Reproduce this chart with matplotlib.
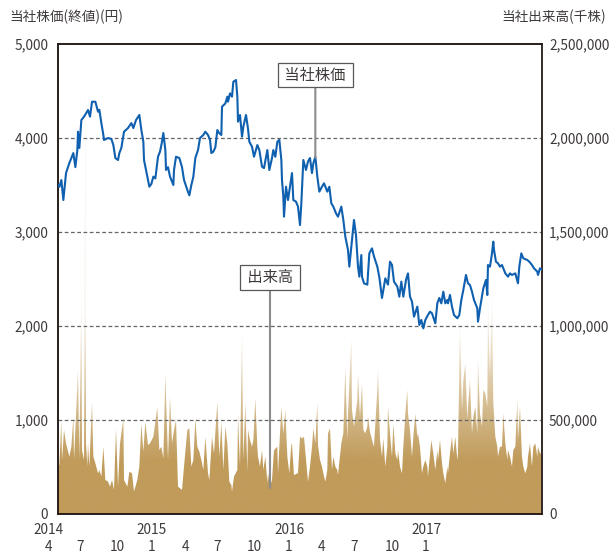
import numpy as np
import matplotlib
matplotlib.use("Agg")
import matplotlib.pyplot as plt
from matplotlib.colors import to_rgb
from matplotlib.path import Path

plt.rcParams['font.family'] = ['Noto Sans CJK JP', 'DejaVu Sans']

# trading-day index (0 = first day shown) and closing price (yen)
price_day = [0, 2, 5, 8, 12, 17, 23, 26, 29, 30, 32, 35, 39, 45, 48, 51, 56, 60, 62, 65,
             68, 69, 75, 80, 83, 86, 90, 92, 95, 99, 105, 110, 113, 117, 122, 125, 128, 129, 134, 137,
             140, 143, 146, 150, 153, 156, 158, 161, 162, 165, 168, 173, 174, 177, 182, 186, 189, 194, 197, 200,
             203, 206, 210, 213, 218, 221, 225, 228, 230, 233, 236, 239, 242, 245, 246, 251, 254, 255, 258, 261,
             263, 267, 269, 270, 273, 276, 278, 282, 285, 287, 291, 294, 299, 302, 306, 309, 314, 317, 321, 323,
             326, 329, 332, 335, 336, 338, 339, 342, 345, 348, 351, 353, 357, 360, 363, 365, 368, 372, 375, 378,
             381, 383, 386, 389, 392, 396, 399, 404, 407, 410, 413, 417, 420, 425, 428, 431, 435, 437, 440, 443,
             444, 447, 450, 452, 455, 456, 459, 464, 467, 471, 474, 479, 482, 486, 491, 495, 498, 501, 504, 509,
             512, 515, 518, 522, 525, 528, 531, 534, 539, 542, 545, 548, 551, 555, 558, 561, 566, 569, 572, 575,
             578, 581, 584, 585, 588, 591, 594, 599, 602, 605, 608, 612, 615, 618, 621, 624, 629, 630, 633, 636,
             638, 642, 644, 645, 648, 651, 653, 654, 657, 660, 663, 666, 671, 675, 678, 681, 686, 690, 692, 695,
             698, 704, 707, 711, 714, 719, 720, 723, 726]
price = [3500, 3480, 3553, 3340, 3627, 3734, 3840, 3690, 3872, 4067, 3894, 4191, 4227, 4298, 4227, 4386, 4386, 4280, 4300, 4159,
         4032, 3979, 4000, 3990, 3925, 3787, 3766, 3840, 3894, 4067, 4106, 4159, 4106, 4191, 4245, 4085, 3960, 3766, 3589, 3482,
         3511, 3589, 3570, 3801, 3855, 3960, 4053, 3872, 3660, 3690, 3589, 3500, 3660, 3801, 3787, 3690, 3553, 3447, 3390, 3500,
         3589, 3787, 3872, 4000, 4032, 4067, 4032, 3979, 3840, 3855, 3900, 4085, 4050, 4032, 4333, 4368, 4440, 4386, 4475, 4440,
         4599, 4617, 4440, 4174, 4245, 4014, 4120, 4245, 4100, 3960, 3908, 3801, 3925, 3872, 3695, 3680, 3872, 3660, 3787, 3872,
         3800, 3960, 3980, 3766, 3553, 3376, 3163, 3482, 3340, 3482, 3627, 3340, 3323, 3270, 3074, 3305, 3766, 3660, 3750, 3787,
         3627, 3730, 3801, 3589, 3429, 3482, 3518, 3429, 3482, 3305, 3270, 3199, 3163, 3270, 3128, 2950, 2809, 2631, 2844, 3057,
         3128, 2970, 2631, 2525, 2755, 2525, 2454, 2440, 2773, 2826, 2740, 2631, 2520, 2298, 2507, 2440, 2684, 2650, 2472, 2419,
         2312, 2472, 2312, 2490, 2560, 2312, 2259, 2099, 2206, 2011, 2064, 1975, 2064, 2117, 2152, 2135, 2028, 2241, 2298, 2241,
         2365, 2241, 2277, 2241, 2330, 2206, 2117, 2082, 2117, 2277, 2383, 2543, 2454, 2436, 2365, 2277, 2188, 2046, 2188, 2312,
         2401, 2490, 2330, 2649, 2631, 2773, 2897, 2810, 2684, 2667, 2631, 2649, 2560, 2525, 2560, 2543, 2560, 2454, 2631, 2773,
         2720, 2702, 2684, 2649, 2614, 2578, 2543, 2614, 2600]

# volume (thousand shares on the right-hand scale)
vol_day = [0, 2, 5, 6, 9, 12, 17, 20, 23, 24, 30, 32, 35, 36, 39, 41, 42, 44, 45, 47,
           51, 53, 56, 60, 62, 65, 68, 71, 75, 78, 81, 84, 87, 90, 93, 98, 99, 104, 107, 111,
           114, 119, 122, 125, 128, 131, 135, 138, 143, 144, 149, 152, 155, 158, 161, 165, 168, 171, 174, 177,
           180, 183, 186, 189, 194, 197, 200, 203, 206, 209, 212, 215, 218, 221, 225, 227, 231, 234, 239, 242,
           245, 248, 251, 254, 257, 260, 261, 264, 269, 270, 273, 276, 278, 281, 284, 285, 288, 291, 293, 296,
           299, 300, 303, 306, 308, 311, 314, 315, 318, 321, 324, 329, 330, 335, 338, 341, 344, 347, 350, 351,
           354, 359, 360, 363, 366, 369, 374, 375, 378, 381, 383, 386, 389, 390, 393, 396, 398, 401, 404, 405,
           408, 411, 413, 416, 419, 420, 425, 428, 431, 434, 435, 440, 441, 444, 449, 450, 453, 456, 458, 461,
           464, 465, 468, 471, 474, 479, 480, 483, 486, 488, 491, 494, 495, 498, 501, 503, 506, 509, 510, 513,
           516, 518, 521, 524, 525, 528, 531, 533, 536, 539, 540, 543, 546, 548, 551, 554, 555, 560, 563, 566,
           569, 570, 573, 576, 578, 581, 584, 585, 588, 591, 593, 596, 599, 600, 603, 606, 608, 611, 614, 615,
           618, 621, 623, 626, 629, 630, 633, 636, 638, 641, 644, 645, 648, 651, 653, 656, 659, 660, 663, 666,
           668, 671, 674, 675, 678, 681, 683, 686, 689, 690, 693, 696, 698, 701, 704, 705, 708, 711, 713, 716,
           719, 720, 723, 726]
vol_k = [261, 261, 500, 287, 447, 376, 305, 358, 518, 287, 766, 287, 1207, 340, 287, 2415, 376, 252, 376, 252,
         597, 305, 270, 216, 234, 199, 358, 181, 172, 145, 181, 128, 456, 145, 376, 504, 181, 145, 225, 216,
         119, 181, 252, 482, 332, 491, 367, 376, 411, 438, 567, 340, 358, 296, 748, 287, 624, 376, 447, 500,
         145, 137, 128, 252, 447, 456, 252, 287, 509, 358, 332, 287, 234, 411, 216, 181, 411, 323, 597, 305,
         491, 234, 465, 376, 172, 154, 119, 199, 234, 527, 252, 961, 287, 589, 225, 447, 394, 358, 394, 615,
         358, 305, 252, 340, 234, 305, 163, 216, 145, 181, 340, 358, 216, 571, 429, 553, 305, 216, 376, 367,
         207, 216, 216, 411, 402, 411, 216, 172, 252, 358, 456, 376, 589, 367, 287, 252, 216, 172, 234, 429,
         456, 234, 305, 252, 234, 207, 376, 429, 784, 394, 535, 926, 553, 465, 606, 748, 518, 695, 447, 429,
         465, 518, 438, 394, 358, 660, 766, 394, 305, 402, 252, 358, 571, 429, 305, 482, 323, 287, 340, 252,
         216, 358, 535, 660, 535, 447, 305, 411, 535, 411, 429, 358, 216, 252, 287, 252, 199, 394, 323, 234,
         340, 287, 394, 270, 216, 163, 252, 216, 323, 411, 323, 411, 287, 323, 996, 553, 713, 801, 500, 571,
         713, 429, 518, 571, 429, 819, 535, 465, 660, 642, 571, 1138, 730, 1174, 589, 411, 358, 305, 358, 358,
         535, 376, 287, 340, 305, 252, 340, 358, 606, 394, 571, 305, 252, 216, 252, 305, 376, 252, 358, 376,
         305, 358, 323, 320]

year_labels = ["2014", "2015", "2016", "2017"]
month_labels = ["4", "7", "10", "1", "4", "7", "10", "1", "4", "7", "10", "1"]
# where the quarter labels sit, in trading-day units
month_pos = [-14.5, 33, 88.5, 141, 190.5, 238.5, 294, 346.5, 396, 444, 501, 552]
year_pos = [month_pos[0], month_pos[3], month_pos[7], month_pos[11]]

text_c = '#3e3a39'
blue = '#1060b0'
tan = '#c09b5a'

fig = plt.figure(figsize=(6.14, 5.55), dpi=100)
ax = fig.add_axes([0.0945, 0.0739, 0.7882, 0.8468])
ax2 = ax.twinx()
ax.set_zorder(ax2.get_zorder() + 1)
ax.patch.set_visible(False)

# volume area with a fade towards the tips of the spikes
vx = np.array(vol_day, dtype=float)
vy = np.array(vol_k, dtype=float) * 1000
verts = np.column_stack([np.r_[vx[0], vx, vx[-1]], np.r_[0, vy, 0]])
clip = Path(verts)
levels = np.linspace(0, 2500000, 400)
alpha = np.clip(1 - (levels - 280000) / 900000, 0.12, 1)
img = np.zeros((400, 1, 4))
img[..., :3] = to_rgb(tan)
img[..., 3] = alpha[:, None]
im = ax2.imshow(img, extent=[vx[0], vx[-1], 0, 2500000], origin='lower',
                aspect='auto', interpolation='bilinear')
im.set_clip_path(clip, transform=ax2.transData)
ax2.set_ylim(0, 2500000)
ax2.set_yticks([0, 500000, 1000000, 1500000, 2000000, 2500000])
ax2.set_yticklabels([f"{v:,}" for v in [0, 500000, 1000000, 1500000, 2000000, 2500000]])

# dashed grid
for g in [1000, 2000, 3000, 4000]:
    ax.axhline(g, color='#666666', lw=0.9, ls=(0, (3, 2)), zorder=1)

ax.plot(price_day, price, color=blue, lw=1.5, zorder=3)
ax.set_xlim(0, 726)
ax.set_ylim(0, 5000)
ax.set_yticks([0, 1000, 2000, 3000, 4000, 5000])
ax.set_yticklabels([f"{v:,}" for v in [0, 1000, 2000, 3000, 4000, 5000]])
ax.set_xticks([])

for a in (ax, ax2):
    a.tick_params(length=0, labelsize=9.8, labelcolor=text_c)
    for s in a.spines.values():
        s.set_color('#231815')
        s.set_linewidth(1.1)
ax.tick_params(axis='y', pad=7)
ax2.tick_params(axis='y', pad=5)
ax2.spines['right'].set_color('#595757')
ax2.set_xlim(0, 726)

trans = ax.get_xaxis_transform()
for p, t in zip(year_pos, year_labels):
    ax.text(p, -0.035, t, transform=trans, ha='center', va='center',
            fontsize=9.8, color=text_c, clip_on=False)
for p, t in zip(month_pos, month_labels):
    ax.text(p, -0.07, t, transform=trans, ha='center', va='center',
            fontsize=9.8, color=text_c, clip_on=False)

fig.text(0.016, 0.969, "当社株価(終値)(円)", ha='left', va='center', fontsize=9.8, color=text_c)
fig.text(0.987, 0.969, "当社出来高(千株)", ha='right', va='center', fontsize=9.8, color=text_c)

# callouts
box = dict(boxstyle='square,pad=0.25', fc='white', ec='#595757', lw=0.9)
ax.annotate(" 当社株価 ", xy=(386, 3790), xytext=(386, 4670), ha='center', va='center',
            fontsize=11, color=text_c, bbox=box, zorder=4,
            arrowprops=dict(arrowstyle='-', color='#8c8c8c', lw=1.5, shrinkA=0, shrinkB=0))
ax.annotate(" 出来高 ", xy=(318, 277), xytext=(318, 2516), ha='center', va='center',
            fontsize=11, color=text_c, bbox=box, zorder=4,
            arrowprops=dict(arrowstyle='-', color='#8c8c8c', lw=1.5, shrinkA=0, shrinkB=0))

fig.savefig("out.png", dpi=100)
